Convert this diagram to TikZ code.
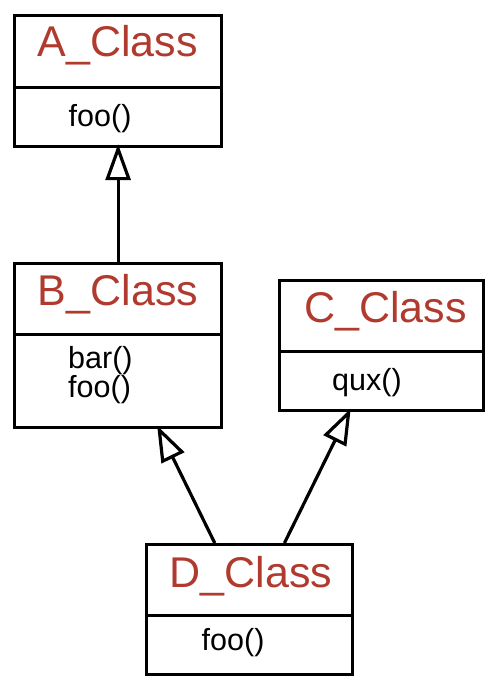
\documentclass[tikz,border=0pt]{standalone}
\usepackage{fontspec}
\setmainfont{Liberation Sans}
\usetikzlibrary{arrows.meta,calc}
\definecolor{titlered}{RGB}{176,58,46}
\tikzset{
  classbox/.style={draw, line width=3.2pt, inner sep=0pt, anchor=north west},
  classhead/.style={draw, line width=3.2pt, inner sep=0pt, anchor=north},
  ctitle/.style={font=\fontsize{43}{43}\selectfont, text=titlered, anchor=base, inner sep=0pt},
  cmeth/.style={font=\fontsize{30.5}{29}\selectfont, anchor=base west, inner sep=0pt, align=left},
  inherit/.style={line width=3.2pt, shorten >=-4pt,
    -{Triangle[open, length=36pt, width=25pt]}}
}
\begin{document}
\begin{tikzpicture}[x=1pt, y=-1pt]
  \useasboundingbox (0,0) rectangle (493,687);

  % class outlines
  \node[classbox, minimum width=207pt, minimum height=131pt] (A) at (13,14) {};
  \node[classbox, minimum width=207pt, minimum height=164pt] (B) at (13,262) {};
  \node[classbox, minimum width=204pt, minimum height=130pt] (C) at (278,279) {};
  \node[classbox, minimum width=206pt, minimum height=130pt] (D) at (145,543) {};

  % title compartments (their lower edge is the divider)
  \node[classhead, minimum width=207pt, minimum height=72pt] (Ah) at (A.north) {};
  \node[classhead, minimum width=207pt, minimum height=71pt] (Bh) at (B.north) {};
  \node[classhead, minimum width=204pt, minimum height=71pt] (Ch) at (C.north) {};
  \node[classhead, minimum width=206pt, minimum height=71pt] (Dh) at (D.north) {};

  % class names
  \node[ctitle] (At) at (117.5,57) {A\_Class};
  \node[ctitle] (Bt) at (118,305) {B\_Class};
  \node[ctitle] (Ct) at (385.5,322) {C\_Class};
  \node[ctitle] (Dt) at (251,587) {D\_Class};

  % operations (multi-line text sits on the baseline of its last line)
  \node[cmeth] (Am) at (68.5,127) {foo()};
  \node[cmeth] (Bm) at (68,397) {bar()\\foo()};
  \node[cmeth] (Cm) at (332,390) {qux()};
  \node[cmeth] (Dm) at (201.5,650) {foo()};

  % generalisation arrows
  \coordinate (Dl) at ($(D.north west)!1/3!(D.north east)$);
  \coordinate (Dr) at ($(D.north west)!2/3!(D.north east)$);
  \draw[inherit] (B.north) -- (A.south);
  \draw[inherit] (Dl) -- (B);
  \draw[inherit] (Dr) -- (C);
\end{tikzpicture}
\end{document}
